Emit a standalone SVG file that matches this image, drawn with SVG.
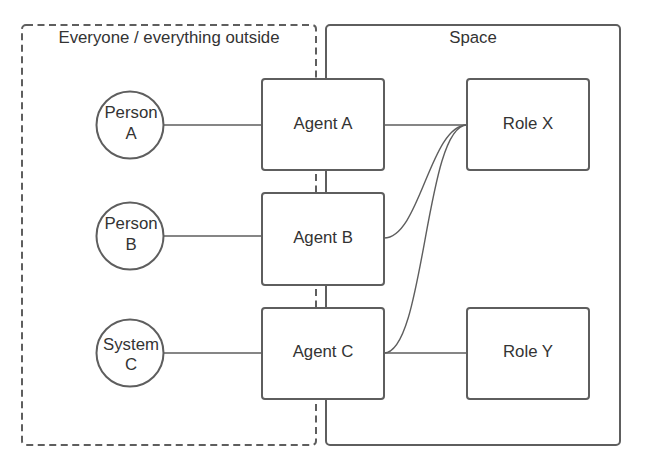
<svg xmlns="http://www.w3.org/2000/svg" width="652" height="465" viewBox="0 0 652 465">
<style>
.box{fill:#fff;stroke:#5e5e5e;stroke-width:2}
.cont{fill:none;stroke:#5e5e5e;stroke-width:2}
.ln{fill:none;stroke:#5e5e5e;stroke-width:1.4}
text{font-family:"Liberation Sans",Arial,sans-serif;font-size:16.8px;fill:#333;text-anchor:middle}
</style>
<rect width="652" height="465" fill="#fff"/>
<g id="outside">
<rect class="cont" x="22" y="25" width="294" height="420" rx="4" stroke-dasharray="7,4.5"/>
<text x="169" y="43">Everyone / everything outside</text>
</g>
<g id="space">
<rect class="cont" x="326" y="25" width="294" height="420" rx="4"/>
<text x="473" y="43">Space</text>
</g>
<g id="connectors">
<line class="ln" x1="164" y1="125" x2="262" y2="125"/>
<line class="ln" x1="164" y1="236" x2="262" y2="236"/>
<line class="ln" x1="164" y1="353" x2="262" y2="353"/>
<line class="ln" x1="384" y1="125" x2="467" y2="125"/>
<line class="ln" x1="384" y1="353" x2="467" y2="353"/>
<path class="ln" d="M384,238 C420,238 430,125 467,125"/>
<path class="ln" d="M384,353 C425,353 425,125 467,125"/>
</g>
<g id="personA"><circle class="box" cx="130" cy="125" r="33.5"/><text x="131" y="118">Person</text><text x="131" y="139">A</text></g>
<g id="personB"><circle class="box" cx="130" cy="236" r="33.5"/><text x="131" y="229">Person</text><text x="131" y="250">B</text></g>
<g id="systemC"><circle class="box" cx="130" cy="353" r="33.5"/><text x="131" y="350">System</text><text x="131" y="370">C</text></g>
<g id="agentA"><rect class="box" x="262" y="79" width="122" height="91" rx="3"/><text x="323" y="129">Agent A</text></g>
<g id="agentB"><rect class="box" x="262" y="193" width="122" height="92" rx="3"/><text x="323" y="243">Agent B</text></g>
<g id="agentC"><rect class="box" x="262" y="308" width="122" height="91" rx="3"/><text x="323" y="357">Agent C</text></g>
<g id="roleX"><rect class="box" x="467" y="79" width="122" height="91" rx="3"/><text x="528" y="129">Role X</text></g>
<g id="roleY"><rect class="box" x="467" y="308" width="122" height="91" rx="3"/><text x="528" y="357">Role Y</text></g>
</svg>
